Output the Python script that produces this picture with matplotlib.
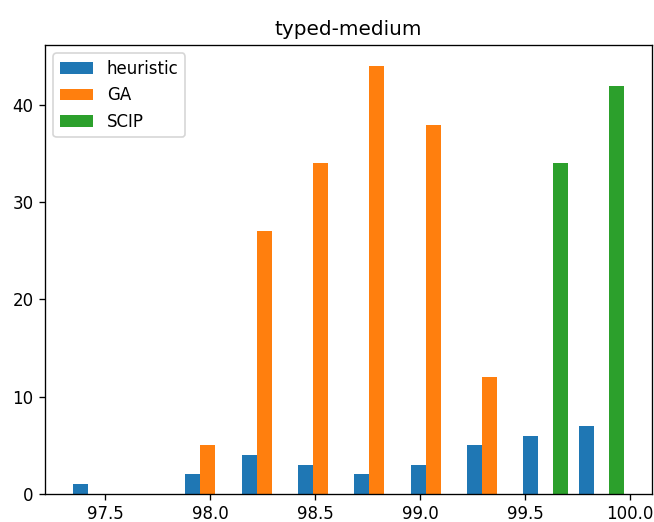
import numpy as np
import matplotlib
matplotlib.use("Agg")
import matplotlib.pyplot as plt

labels = ["heuristic", "GA", "SCIP"]
bin_min, bin_max, n_bins = 97.32, 100.0, 10
heuristic_counts = [1, 0, 2, 4, 3, 2, 3, 5, 6, 7]
ga_counts = [0, 0, 5, 27, 34, 44, 38, 12, 0, 0]
scip_counts = [0, 0, 0, 0, 0, 0, 0, 0, 34, 42]
title = "typed-medium"

edges = np.linspace(bin_min, bin_max, n_bins + 1)
centers = 0.5 * (edges[:-1] + edges[1:])

fig = plt.figure(figsize=(6.54 / 1.2, 5.22 / 1.2), dpi=120)
ax = fig.add_axes([0.069, 0.054, 0.928, 0.860])
ax.hist([centers, centers, centers], bins=edges,
        weights=[heuristic_counts, ga_counts, scip_counts], label=labels)
ax.set_title(title)
ax.legend(loc="upper left")
fig.savefig("out.png", dpi=120)
